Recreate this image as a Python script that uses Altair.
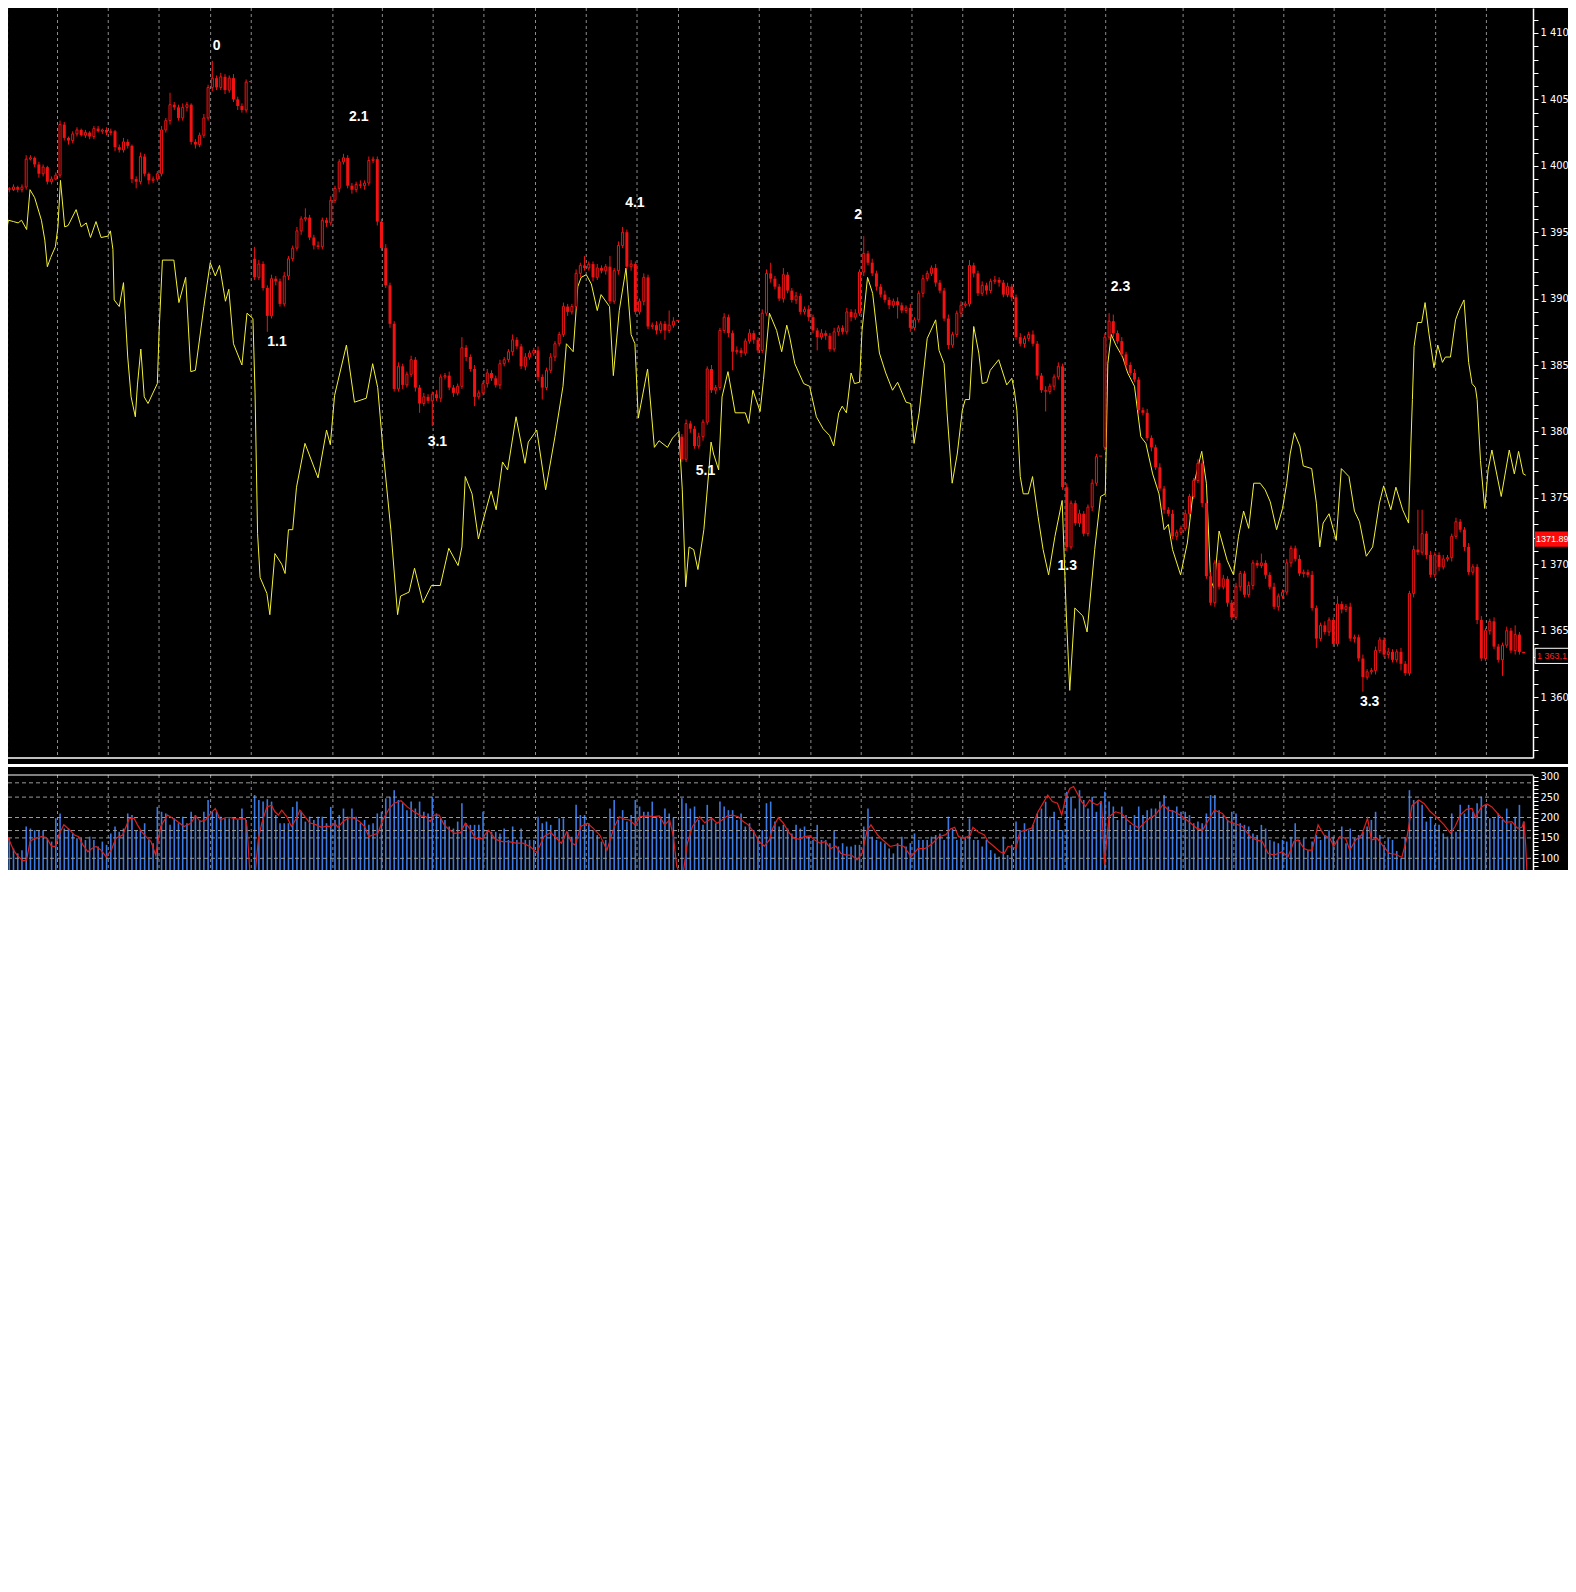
import altair as alt
import pandas as pd

# ---------------- data ----------------
# candle closes, one per bar (bar index 0..359)
close = [
    1398.3, 1398.2, 1398.4, 1398.2, 1398.4, 1400.5, 1400.6, 1400.1, 1399.4, 1399.9,
    1398.8, 1399.0, 1399.3, 1403.1, 1402.1, 1401.9, 1402.4, 1402.7, 1402.3, 1402.5,
    1402.2, 1402.8, 1402.6, 1402.7, 1402.5, 1402.6, 1401.4, 1401.2, 1401.8, 1401.5,
    1399.0, 1398.8, 1400.7, 1399.4, 1398.9, 1399.0, 1399.4, 1402.7, 1403.4, 1404.6,
    1404.4, 1403.6, 1404.4, 1404.6, 1401.8, 1401.6, 1402.3, 1403.6, 1405.9, 1406.6,
    1405.9, 1406.7, 1405.7, 1406.6, 1405.0, 1404.5, 1404.2, 1406.3, 1406.3, 1391.6,
    1392.6, 1390.8, 1388.7, 1391.5, 1391.3, 1389.6, 1391.7, 1393.0, 1393.8, 1395.1,
    1396.0, 1396.1, 1394.6, 1394.0, 1393.9, 1395.9, 1395.7, 1397.4, 1398.3, 1400.3,
    1400.6, 1398.5, 1398.2, 1398.6, 1398.5, 1398.7, 1400.4, 1400.5, 1395.8, 1393.8,
    1391.0, 1388.1, 1383.2, 1384.9, 1383.5, 1384.3, 1385.4, 1383.3, 1382.1, 1382.6,
    1382.3, 1382.8, 1382.5, 1384.1, 1384.2, 1383.3, 1382.9, 1383.4, 1386.3, 1385.6,
    1384.7, 1382.6, 1382.9, 1383.6, 1384.4, 1384.0, 1383.5, 1385.1, 1385.4, 1386.0,
    1386.9, 1386.4, 1384.9, 1385.6, 1385.9, 1386.1, 1384.1, 1383.3, 1384.6, 1385.6,
    1386.6, 1387.3, 1389.4, 1389.0, 1389.4, 1391.9, 1392.5, 1392.3, 1392.6, 1391.6,
    1392.3, 1392.1, 1392.4, 1389.8, 1392.1, 1394.0, 1395.0, 1392.4, 1392.6, 1389.0,
    1389.8, 1391.6, 1387.9, 1388.0, 1387.6, 1388.1, 1387.6, 1388.0, 1388.3, 1388.3,
    1377.9, 1380.6, 1380.2, 1378.9, 1379.6, 1380.7, 1384.7, 1383.1, 1383.3, 1387.6,
    1388.6, 1387.4, 1386.0, 1386.1, 1385.9, 1386.8, 1387.4, 1386.9, 1386.1, 1388.9,
    1391.9, 1391.5, 1390.9, 1390.0, 1391.8, 1390.6, 1389.9, 1390.2, 1389.0, 1389.2,
    1388.6, 1387.6, 1387.1, 1387.4, 1387.2, 1386.2, 1387.5, 1387.8, 1387.5, 1389.0,
    1388.6, 1388.9, 1392.0, 1393.4, 1392.7, 1391.9, 1390.9, 1390.3, 1389.9, 1389.5,
    1389.8, 1389.5, 1389.1, 1389.3, 1387.8, 1388.4, 1390.4, 1391.5, 1391.9, 1392.3,
    1391.2, 1390.6, 1388.5, 1386.5, 1387.3, 1388.9, 1389.5, 1389.6, 1392.5, 1391.9,
    1390.4, 1391.0, 1390.6, 1391.3, 1391.4, 1391.2, 1390.3, 1390.9, 1390.1, 1387.1,
    1386.6, 1387.0, 1387.3, 1386.6, 1384.2, 1383.1, 1383.0, 1383.4, 1384.1, 1384.9,
    1375.8, 1371.3, 1374.6, 1373.1, 1373.8, 1372.3, 1374.3, 1376.1, 1378.1, 1378.1,
    1387.1, 1388.3, 1387.4, 1386.8, 1385.8, 1385.0, 1384.4, 1383.9, 1381.6, 1381.4,
    1379.5, 1378.8, 1377.3, 1375.7, 1374.1, 1373.8, 1372.1, 1372.4, 1372.7, 1373.8,
    1375.1, 1376.3, 1377.6, 1374.6, 1369.1, 1367.1, 1370.1, 1368.3, 1368.9, 1367.1,
    1366.0, 1368.3, 1369.3, 1367.7, 1368.4, 1370.1, 1369.9, 1370.1, 1369.2, 1368.3,
    1366.8, 1367.6, 1367.9, 1370.1, 1371.2, 1370.4, 1369.3, 1369.4, 1369.2, 1366.7,
    1364.4, 1365.4, 1364.9, 1365.8, 1364.0, 1367.0, 1366.6, 1366.8, 1364.4, 1364.5,
    1362.9, 1361.5, 1361.9, 1362.0, 1363.5, 1364.3, 1363.2, 1363.4, 1362.8, 1363.4,
    1362.5, 1361.8, 1367.8, 1371.1, 1370.9, 1372.3, 1370.7, 1369.2, 1370.7, 1369.8,
    1370.4, 1370.5, 1372.1, 1373.2, 1372.6, 1371.3, 1369.4, 1369.8, 1365.8, 1362.9,
    1365.0, 1365.7, 1363.8, 1362.8, 1363.9, 1365.0, 1363.5, 1364.7, 1363.4, 1363.3,
]
# bars that open a new session (their open is not the previous close)
gap_bars = [0, 59, 160, 260]
gap_opens = [1397.6, 1393.0, 1379.6, 1378.8]

# wick lengths above / below the body, in tenths of a point
wick_up = [
    2, 1, 2, 1, 2, 3, 2, 1, 2, 2, 1, 2, 2, 3, 2, 1, 2, 2, 1, 2,
    1, 2, 2, 1, 2, 2, 1, 2, 3, 2, 1, 2, 3, 2, 1, 2, 2, 3, 2, 9,
    2, 2, 3, 2, 1, 2, 2, 3, 2, 13, 2, 3, 2, 2, 3, 2, 2, 2, 0, 9,
    3, 2, 2, 3, 2, 2, 3, 2, 2, 3, 2, 7, 2, 2, 3, 2, 2, 3, 2, 2,
    3, 2, 2, 2, 3, 2, 3, 2, 2, 2, 3, 2, 2, 3, 2, 2, 3, 2, 2, 3,
    2, 2, 3, 2, 2, 3, 2, 2, 8, 2, 2, 3, 2, 2, 3, 2, 2, 3, 2, 2,
    4, 2, 2, 3, 2, 2, 3, 2, 2, 3, 2, 2, 3, 2, 2, 3, 2, 7, 2, 2,
    3, 2, 2, 8, 2, 3, 4, 2, 3, 2, 2, 3, 2, 2, 3, 2, 2, 11, 3, 0,
    2, 3, 2, 2, 3, 2, 2, 3, 2, 2, 3, 2, 2, 3, 2, 2, 3, 2, 2, 3,
    3, 8, 2, 2, 5, 2, 2, 3, 2, 2, 3, 2, 2, 3, 2, 2, 3, 2, 2, 3,
    2, 3, 2, 13, 2, 3, 2, 2, 3, 2, 2, 3, 2, 2, 3, 2, 2, 3, 2, 2,
    3, 2, 2, 3, 2, 2, 3, 2, 4, 2, 2, 3, 2, 2, 3, 2, 2, 3, 2, 2,
    3, 2, 2, 3, 2, 2, 3, 2, 2, 3, 2, 3, 2, 2, 3, 2, 2, 3, 2, 0,
    3, 6, 5, 2, 3, 2, 2, 3, 2, 2, 3, 2, 2, 3, 2, 2, 3, 2, 2, 3,
    2, 2, 3, 2, 2, 3, 2, 2, 3, 2, 2, 3, 2, 2, 3, 2, 2, 7, 2, 2,
    3, 2, 2, 3, 2, 2, 3, 2, 2, 3, 2, 2, 3, 2, 2, 6, 2, 2, 3, 2,
    2, 3, 2, 2, 3, 2, 2, 3, 2, 2, 3, 2, 2, 3, 30, 18, 2, 3, 2, 2,
    3, 2, 2, 3, 2, 2, 3, 2, 2, 3, 2, 2, 3, 2, 2, 3, 2, 7, 2, 0,
]
wick_dn = [
    2, 2, 1, 2, 2, 2, 1, 2, 3, 2, 2, 2, 1, 2, 2, 3, 2, 2, 1, 2,
    2, 2, 1, 2, 2, 2, 3, 2, 2, 2, 3, 5, 2, 2, 3, 2, 2, 2, 2, 3,
    2, 2, 2, 3, 2, 3, 2, 2, 2, 3, 2, 2, 3, 2, 2, 3, 2, 2, 0, 2,
    2, 2, 12, 2, 3, 2, 2, 3, 2, 2, 3, 2, 2, 3, 2, 2, 3, 2, 2, 3,
    2, 2, 3, 2, 2, 3, 2, 2, 3, 2, 2, 3, 2, 2, 3, 2, 2, 3, 7, 2,
    2, 19, 2, 3, 2, 2, 3, 2, 2, 3, 2, 7, 2, 2, 3, 2, 2, 3, 2, 2,
    3, 2, 2, 3, 2, 2, 3, 9, 2, 2, 3, 2, 2, 3, 2, 2, 3, 2, 2, 3,
    2, 2, 3, 2, 2, 3, 2, 2, 3, 2, 2, 3, 2, 2, 3, 2, 7, 2, 2, 0,
    2, 2, 3, 2, 2, 3, 2, 2, 3, 2, 2, 3, 14, 2, 3, 2, 2, 3, 2, 2,
    2, 3, 2, 2, 3, 2, 2, 3, 2, 2, 3, 2, 10, 2, 3, 2, 2, 3, 2, 2,
    3, 2, 2, 3, 2, 2, 3, 2, 2, 3, 2, 10, 2, 2, 3, 2, 2, 3, 2, 2,
    3, 2, 2, 3, 2, 2, 3, 2, 2, 3, 2, 2, 3, 2, 2, 3, 2, 2, 3, 2,
    2, 3, 2, 2, 3, 2, 15, 2, 3, 2, 2, 3, 2, 2, 3, 2, 2, 3, 2, 0,
    2, 2, 3, 2, 2, 3, 2, 2, 3, 2, 2, 3, 2, 2, 3, 2, 2, 3, 2, 2,
    3, 2, 2, 3, 2, 2, 3, 2, 2, 3, 2, 2, 3, 2, 2, 3, 2, 2, 3, 2,
    2, 3, 2, 2, 3, 2, 2, 3, 2, 2, 7, 2, 2, 3, 2, 2, 3, 2, 2, 3,
    2, 11, 2, 2, 3, 2, 2, 3, 2, 2, 5, 2, 2, 3, 2, 2, 3, 2, 2, 3,
    2, 2, 3, 2, 2, 3, 2, 2, 3, 2, 2, 3, 2, 2, 12, 2, 2, 3, 2, 0,
]

# volume bars of the lower panel, one per bar
volume = [
    186, 149, 124, 112, 120, 178, 173, 169, 169, 169, 149, 141, 198, 210, 173, 173, 161, 149, 149, 145,
    153, 145, 129, 141, 133, 161, 178, 165, 173, 210, 206, 169, 169, 186, 145, 137, 226, 214, 210, 182,
    198, 186, 202, 186, 214, 206, 194, 214, 243, 214, 214, 202, 198, 198, 198, 194, 222, 194, 60, 255,
    243, 239, 245, 239, 206, 186, 186, 186, 226, 239, 214, 190, 202, 194, 202, 202, 186, 226, 194, 206,
    222, 202, 222, 202, 186, 194, 182, 186, 210, 214, 247, 251, 267, 243, 235, 218, 239, 222, 239, 214,
    210, 251, 210, 198, 194, 178, 173, 190, 235, 186, 182, 182, 182, 214, 169, 165, 165, 161, 173, 145,
    178, 145, 173, 145, 145, 145, 202, 186, 190, 182, 169, 198, 198, 165, 153, 231, 206, 206, 186, 169,
    157, 141, 145, 222, 243, 194, 218, 190, 206, 243, 227, 214, 214, 239, 202, 202, 222, 210, 200, 60,
    247, 235, 222, 227, 194, 182, 231, 198, 186, 239, 227, 218, 218, 194, 210, 178, 186, 169, 153, 169,
    235, 239, 190, 178, 182, 173, 161, 182, 173, 178, 153, 145, 182, 145, 145, 137, 169, 129, 137, 129,
    129, 133, 133, 178, 222, 153, 145, 141, 137, 124, 112, 137, 153, 129, 137, 161, 145, 145, 145, 153,
    157, 161, 145, 202, 173, 145, 149, 153, 198, 145, 145, 129, 145, 120, 112, 104, 153, 108, 133, 190,
    169, 186, 169, 182, 210, 222, 239, 202, 214, 194, 169, 263, 251, 222, 267, 243, 222, 251, 214, 240,
    263, 239, 227, 194, 227, 206, 182, 206, 227, 206, 218, 222, 222, 239, 255, 227, 218, 227, 214, 214,
    206, 186, 190, 186, 210, 255, 255, 218, 206, 194, 214, 210, 186, 182, 178, 161, 157, 182, 173, 145,
    141, 137, 145, 141, 153, 186, 145, 149, 120, 141, 157, 145, 157, 169, 153, 145, 178, 137, 173, 149,
    157, 165, 178, 194, 214, 157, 133, 149, 145, 118, 100, 152, 267, 243, 243, 231, 190, 202, 182, 182,
    161, 153, 210, 165, 231, 210, 231, 214, 235, 251, 231, 198, 198, 210, 194, 222, 186, 202, 231, 190,
]

# red moving-average line of the lower panel: (bar, value)
ma_points = [
    (0, 129), (0.8, 149), (2, 120), (3.1, 104), (4.3, 94), (5.1, 96), (5.9, 141), (7, 149), (8.6, 153), (9.8, 151),
    (11, 129), (11.9, 129), (12.7, 157), (13.9, 182), (15.3, 169), (16.4, 157), (17.4, 153), (18.4, 133), (19.6, 116),
    (20.5, 124), (21.5, 129), (22.7, 120), (23.9, 104), (25.1, 120), (26.2, 149), (27.8, 157), (29.4, 198), (30.5, 198),
    (31.3, 182), (32.3, 165), (33.3, 153), (34.5, 141), (35.6, 108), (36.8, 178), (38.4, 206), (40.3, 194), (42.3, 178),
    (43.9, 186), (45, 204), (46.2, 190), (47.4, 194), (48.6, 210), (49.7, 222), (50.9, 194), (52.1, 200), (53.2, 200),
    (54.8, 196), (56.8, 197), (57.2, 178), (57.9, 60), (59.1, 60), (59.9, 149), (60.7, 186), (61.9, 226), (63, 230),
    (63.8, 214), (64.6, 206), (65.4, 218), (66.6, 202), (67.7, 178), (68.9, 198), (69.7, 218), (70.9, 202), (72, 187),
    (73.6, 182), (74.8, 176), (76, 179), (77.1, 178), (77.9, 186), (78.7, 176), (79.9, 190), (81.4, 200), (82.6, 198),
    (83.8, 190), (85, 178), (86, 153), (86.9, 157), (88.1, 161), (89.3, 194), (90.8, 222), (92, 235), (93.6, 241),
    (95.1, 226), (96.7, 214), (98.3, 204), (99.5, 202), (100.5, 190), (101.4, 206), (102.6, 206), (103.8, 182),
    (104.9, 171), (106.3, 161), (107.7, 163), (108.8, 186), (110, 171), (111.2, 149), (112.8, 149), (114.3, 169),
    (115.9, 147), (117.5, 141), (119.1, 141), (120.8, 137), (122.4, 137), (124.1, 129), (125.7, 114), (127.4, 153),
    (129, 163), (130.7, 145), (131.5, 137), (132.8, 165), (134, 137), (134.8, 133), (136.1, 178), (137.7, 186),
    (139, 174), (140.6, 157), (142.3, 120), (143.9, 174), (145.2, 202), (146.4, 196), (147.6, 194), (148.9, 182),
    (150.1, 202), (151.8, 204), (153.4, 202), (154.7, 204), (155.9, 182), (157.1, 194), (158, 153), (158.8, 80),
    (159.6, 60), (160.4, 70), (161.3, 137), (162.5, 178), (164.2, 202), (165.4, 187), (167.1, 198), (168.3, 186),
    (169.5, 194), (170.8, 204), (172, 206), (173.3, 202), (174.5, 190), (175.7, 182), (177, 165), (178.2, 141),
    (179.5, 130), (180.7, 145), (181.5, 174), (182.8, 200), (184, 186), (185.2, 165), (186.5, 149), (187.7, 147),
    (189, 153), (190.2, 155), (191.4, 145), (192.7, 137), (193.9, 141), (195.2, 124), (196.4, 130), (197.6, 112),
    (198.9, 108), (200.1, 108), (201.4, 96), (202.6, 112), (203.8, 169), (204.7, 182), (206.3, 157), (207.5, 145),
    (209.2, 129), (210.9, 133), (212.5, 129), (214.2, 104), (215.8, 124), (217.5, 124), (219.1, 135), (220.8, 153),
    (222.4, 158), (223.5, 172), (224.5, 176), (225.4, 153), (226.8, 149), (228.2, 157), (228.8, 176), (230, 165),
    (231.5, 157), (232.4, 141), (233.8, 129), (235.2, 116), (236.2, 112), (237.1, 129), (238, 127), (239, 125),
    (239.9, 165), (241.3, 169), (242.7, 174), (244.2, 214), (245.6, 239), (246.5, 255), (247.6, 239), (248.8, 235),
    (249.8, 206), (250.7, 247), (251.7, 271), (252.6, 276), (253.5, 259), (254.5, 239), (255.4, 227), (256.4, 243),
    (257.3, 235), (258.2, 231), (259.2, 239), (259.9, 85), (260.2, 120), (261, 202), (262.5, 214), (263.9, 210),
    (265.3, 194), (266.7, 182), (268.1, 174), (270, 194), (271.9, 206), (273.7, 231), (275.1, 218), (276.5, 214),
    (278.4, 202), (280.3, 186), (281.7, 174), (283.1, 169), (284.5, 194), (285.9, 218), (287.8, 210), (289.2, 190),
    (290.6, 186), (292.5, 178), (294.4, 153), (295.8, 145), (297.2, 141), (298.6, 112), (300, 108), (301.9, 116),
    (303.3, 104), (304.7, 141), (305.7, 145), (307.1, 124), (308, 120), (309, 120), (310.4, 182), (311.8, 157),
    (313.2, 149), (314.1, 129), (315.5, 153), (316.9, 149), (317.9, 120), (319.3, 145), (320.7, 157), (322.1, 198),
    (323, 145), (324.4, 149), (325.8, 129), (327.3, 112), (328.7, 110), (330.2, 102), (331.4, 150), (332.6, 229),
    (334.2, 243), (335.5, 234), (336.8, 216), (338.3, 202), (340.2, 182), (341.7, 162), (342.8, 178), (344, 206),
    (345.5, 220), (346.8, 222), (347.6, 200), (349, 226), (350.3, 233), (351.5, 226), (353.2, 206), (354.7, 188),
    (356.2, 190), (357.5, 174), (358.6, 176), (359.1, 190), (359.5, 129), (359.8, 60),
]

# yellow overlay line of the price panel: (bar, price)
yellow_points = [
    (0, 1394.6), (0.8, 1395.9), (2, 1395.8), (3.1, 1395.7), (3.9, 1395.9), (5.1, 1395.2), (5.9, 1398.2), (7, 1397.6),
    (8.6, 1395.9), (9.4, 1394.4), (10, 1392.4), (10.8, 1393.1), (11.9, 1393.9), (12.5, 1395.4), (13.1, 1398.9),
    (14.1, 1395.4), (14.9, 1395.5), (16.8, 1396.7), (18, 1395.4), (19.2, 1395.7), (20.2, 1394.6), (21.5, 1395.8),
    (22.7, 1394.6), (24.3, 1394.7), (24.9, 1395.1), (25.5, 1393.7), (25.8, 1389.9), (27, 1389.4), (28, 1391.2),
    (28.5, 1388.4), (29, 1385.6), (29.8, 1382.6), (30.8, 1381.1), (31.3, 1383.5), (32.1, 1386.2), (32.9, 1382.6),
    (33.8, 1382.1), (36, 1383.6), (36.4, 1387.4), (37.2, 1392.9), (39.9, 1392.9), (41.1, 1389.7), (42.7, 1391.6),
    (43.9, 1384.5), (45, 1384.6), (47, 1389.4), (48.5, 1392.7), (49.7, 1391.7), (50.7, 1392.5), (52.1, 1389.8),
    (52.9, 1390.7), (54, 1386.6), (56, 1385.0), (57.2, 1388.9), (58.6, 1388.5), (59.1, 1382.9), (59.7, 1372.3),
    (60.3, 1369.0), (61.9, 1367.8), (62.6, 1366.2), (63.8, 1370.8), (65.4, 1370.0), (66.2, 1369.3), (67, 1372.6),
    (68, 1372.6), (68.9, 1375.8), (70.9, 1379.1), (74, 1376.5), (76, 1380.1), (76.9, 1379.0), (77.9, 1382.7),
    (80.7, 1386.5), (82.6, 1382.2), (85.4, 1382.5), (86.9, 1385.1), (88.1, 1383.3), (89.3, 1378.8), (91.2, 1372.6),
    (92.8, 1366.2), (93.5, 1367.6), (95.5, 1367.9), (96.8, 1369.7), (98.8, 1367.1), (100.8, 1368.4), (102.9, 1368.4),
    (104.9, 1371.2), (107.1, 1369.9), (108, 1371.3), (108.8, 1376.6), (110.4, 1375.3), (111.9, 1371.9), (113.1, 1373.4),
    (114.9, 1375.5), (116.1, 1374.1), (117.6, 1377.7), (118.8, 1377.1), (120.8, 1381.1), (122.9, 1377.6), (123.7, 1379.2),
    (125.7, 1380.1), (127.8, 1375.6), (130, 1379.6), (131.9, 1383.4), (132.7, 1386.6), (134.3, 1386.0), (135.4, 1390.9),
    (136.2, 1391.6), (137.4, 1391.8), (138.6, 1391.1), (140, 1389.1), (140.9, 1390.3), (142.9, 1389.4), (143.8, 1384.2),
    (145.2, 1389.1), (146.8, 1392.3), (148, 1387.3), (148.9, 1386.6), (149.7, 1381.0), (151.9, 1384.7), (153.5, 1378.8),
    (154.6, 1379.3), (156.6, 1378.8), (157.8, 1379.5), (159.3, 1380.0), (160.1, 1375.6), (160.9, 1368.3), (161.7, 1371.3),
    (162.8, 1371.1), (163.8, 1369.6), (165.2, 1372.6), (166.4, 1377.1), (166.9, 1379.2), (167.5, 1378.3), (168.7, 1377.1),
    (169.5, 1382.6), (170.9, 1384.5), (172.6, 1381.4), (175, 1381.4), (175.8, 1380.6), (176.8, 1383.1), (178.5, 1381.5),
    (179.3, 1383.9), (180.7, 1388.9), (182.4, 1387.6), (183.6, 1386.0), (184.8, 1388.0), (185.5, 1387.1), (186.7, 1385.1),
    (188.8, 1383.6), (190.2, 1383.4), (191.8, 1381.1), (193.4, 1380.2), (194.9, 1379.7), (195.9, 1378.9), (197.1, 1381.4),
    (197.9, 1381.9), (198.9, 1381.4), (200, 1384.4), (200.8, 1383.6), (202, 1383.7), (202.6, 1387.6), (203.9, 1391.6),
    (205.1, 1390.4), (206.7, 1385.9), (208.2, 1384.4), (209.8, 1383.1), (211, 1383.7), (213, 1382.2), (214.1, 1382.1),
    (214.9, 1379.1), (216.1, 1381.4), (218, 1387.0), (220, 1388.4), (220.8, 1386.1), (222, 1385.1), (222.7, 1381.4),
    (223.9, 1376.1), (225.1, 1378.3), (226.3, 1381.6), (227, 1382.4), (228, 1382.4), (229, 1387.9), (230.2, 1385.9),
    (231, 1383.6), (232.1, 1383.7), (232.9, 1384.6), (234.9, 1385.4), (236.8, 1383.5), (238, 1384.0), (238.6, 1383.1),
    (239.2, 1381.6), (240, 1376.6), (240.7, 1375.3), (241.9, 1375.3), (242.9, 1376.6), (244.2, 1373.6), (245.4, 1371.1),
    (246.7, 1369.2), (248.2, 1372.1), (249.9, 1374.8), (250.5, 1369.6), (250.9, 1366.1), (251.7, 1360.5), (252.9, 1366.7),
    (254.8, 1366.1), (255.8, 1364.9), (257.6, 1371.1), (259, 1375.1), (260.1, 1375.3), (260.7, 1385.1), (261.5, 1387.3),
    (262.6, 1386.5), (264.2, 1385.6), (265.4, 1384.4), (267, 1383.4), (268.5, 1379.6), (269.7, 1379.1), (271.3, 1376.8),
    (272.8, 1375.3), (274, 1372.6), (275, 1373.0), (276, 1371.1), (277.9, 1369.2), (279.5, 1371.6), (281.1, 1376.1),
    (282.9, 1378.5), (284, 1376.1), (285, 1368.8), (285.8, 1368.2), (287, 1372.5), (288.9, 1370.3), (290.4, 1369.2),
    (291.6, 1372.1), (292.8, 1374.0), (294, 1372.7), (295.2, 1376.1), (296.7, 1376.1), (297.9, 1375.6), (299.1, 1374.7),
    (300.6, 1372.6), (302, 1374.2), (303, 1376.1), (303.8, 1378.3), (304.8, 1379.9), (306.1, 1378.9), (306.9, 1377.4),
    (308.9, 1377.2), (310, 1374.6), (310.8, 1371.3), (311.6, 1373.1), (313, 1373.8), (314.7, 1371.8), (315.9, 1377.2),
    (317.7, 1376.6), (319, 1374.0), (320.2, 1373.2), (321.8, 1370.6), (323.3, 1371.3), (324.9, 1374.6), (325.9, 1375.9),
    (327.6, 1374.1), (328.8, 1375.8), (330.4, 1374.1), (331.8, 1373.1), (332.3, 1378.6), (332.7, 1382.4), (333.1, 1386.4),
    (333.9, 1388.2), (334.9, 1388.2), (335.7, 1389.7), (336.6, 1387.4), (337.8, 1384.8), (338.7, 1386.5), (339.8, 1385.2),
    (340.5, 1385.6), (341.7, 1385.6), (342.9, 1388.4), (343.7, 1389.1), (344.9, 1389.9), (346, 1385.2), (346.8, 1383.6),
    (347.6, 1383.3), (348, 1382.4), (348.8, 1377.8), (349.8, 1374.2), (350.6, 1377.1), (351.5, 1378.6), (353.7, 1375.1),
    (355.6, 1378.6), (356.8, 1376.8), (357.8, 1378.5), (358.9, 1376.8), (359.5, 1376.7),
]

# dashed vertical separators (bar positions)
grid_bars = [0.6, 12.4, 24.4, 36.4, 48.6, 58.2, 77.5, 89.2, 101.2, 113.2, 125.4, 137.4, 149.4, 159.2,
             178.3, 190.5, 202.4, 214.4, 226.4, 238.4, 250.6, 260.2, 278.5, 290.5, 302.3, 314.2, 326.2,
             338.2, 350.2]

# wave labels
wave_text = ["0", "2.1", "1.1", "3.1", "4.1", "5.1", "2", "1.3", "2.3", "3.3"]
wave_bar = [50.0, 83.6, 64.3, 102.2, 148.9, 165.6, 201.7, 251.1, 263.7, 322.6]
wave_price = [1409.0, 1403.7, 1386.7, 1379.2, 1397.2, 1377.0, 1396.3, 1369.9, 1390.9, 1359.65]

# axis ticks and lower-panel dashed levels
price_ticks = list(range(1356, 1412))
vol_ticks = list(range(80, 301, 10))
vol_levels = [285, 250, 200, 168, 150, 100]

# price tags at the right edge
tag_value = [1371.89, 1363.1]
tag_text = ["1371.89", "1 363,1"]

# ---------------- build tables ----------------
n = min(len(close), len(wick_up), len(wick_dn), len(volume))
rows = []
for i in range(n):
    c = close[i]
    o = gap_opens[gap_bars.index(i)] if i in gap_bars else close[i - 1]
    blo, bhi = min(o, c), max(o, c)
    if bhi - blo < 0.08:
        bhi = blo + 0.08
    rows.append(dict(i=i, blo=blo, bhi=bhi,
                     hi=max(o, c) + wick_up[i] / 10.0,
                     lo=min(o, c) - wick_dn[i] / 10.0,
                     up=bool(c > o + 0.05), vol=volume[i]))
candles = pd.DataFrame(rows)
yellow_df = pd.DataFrame(yellow_points, columns=["i", "p"])
ma_df = pd.DataFrame(ma_points, columns=["i", "v"])
grid_df = pd.DataFrame({"g": grid_bars})
wave_df = pd.DataFrame({"t": wave_text, "i": wave_bar, "p": wave_price})
lvl_df = pd.DataFrame({"v": vol_levels})
one = pd.DataFrame({"k": [0]})
tag1 = pd.DataFrame({"t": [tag_text[0]], "p": [tag_value[0]],
                     "lo": [tag_value[0] - 0.57], "hi": [tag_value[0] + 0.57]})
tag2 = pd.DataFrame({"t": [tag_text[1]], "p": [tag_value[1]],
                     "lo": [tag_value[1] - 0.57], "hi": [tag_value[1] + 0.57]})

# ---------------- scales / styles ----------------
W, H = 1525, 862
PAD_R = 35
RED = "#f21212"
GRID = "#8c8c8c"
FONT = "Liberation Sans"
AXFONT = "Liberation Sans Narrow, DejaVu Sans Condensed, Liberation Sans"

XS = alt.Scale(domain=[1.879, 360.03], nice=False, zero=False)


def YM():
    return alt.Scale(domain=[1355.41, 1411.88], range=[750, 0], nice=False, zero=False)


def YL():
    return alt.Scale(domain=[71.3, 304.2], range=[862, 767], nice=False, zero=False)


def X(f):
    return alt.X(f"{f}:Q", scale=XS, axis=None)


main_axis = alt.Axis(
    orient="right", values=price_ticks, title=None, grid=False,
    labelExpr="datum.value % 5 === 0 ? replace(format(datum.value, ','), ',', ' ') : ''",
    tickSize=5, tickColor="white", domainColor="white", domainWidth=1.5,
    labelColor="white", labelFont=AXFONT, labelFontSize=11, labelPadding=2,
    labelOverlap=False, labelBound=False, labelFlush=False,
)
low_axis = alt.Axis(
    orient="right", values=vol_ticks, title=None, grid=False,
    labelExpr="datum.value % 50 === 0 ? '' + datum.value : ''",
    tickSize=5, tickColor="white", domainColor="white", domainWidth=1.5,
    labelColor="white", labelFont=AXFONT, labelFontSize=11, labelPadding=2,
    labelOverlap=False, labelBound=False, labelFlush=False,
)

# ---------------- price panel ----------------
grid_main = alt.Chart(grid_df).mark_rule(color=GRID, strokeDash=[3, 3], strokeWidth=1).encode(
    x=X("g"), y=alt.value(0), y2=alt.value(750))
yellow = alt.Chart(yellow_df).mark_line(color="#f3f235", strokeWidth=1).encode(
    x=X("i"), y=alt.Y("p:Q", scale=YM(), axis=main_axis))
wicks = alt.Chart(candles).mark_rule(color=RED, strokeWidth=1).encode(
    x=X("i"), y=alt.Y("lo:Q", scale=YM(), axis=None), y2="hi:Q")
down = alt.Chart(candles).transform_filter("!datum.up").mark_bar(size=3, color=RED).encode(
    x=X("i"), y=alt.Y("blo:Q", scale=YM(), axis=None), y2="bhi:Q")
up = alt.Chart(candles).transform_filter("datum.up").mark_bar(
    size=2, fill="black", stroke=RED, strokeWidth=1).encode(
    x=X("i"), y=alt.Y("blo:Q", scale=YM(), axis=None), y2="bhi:Q")
waves = alt.Chart(wave_df).mark_text(color="white", font=FONT, fontSize=14, fontWeight="bold").encode(
    x=X("i"), y=alt.Y("p:Q", scale=YM(), axis=None), text="t:N")
border_main = alt.Chart(one).mark_rule(color="white", strokeWidth=1.5).encode(
    x=alt.value(0), x2=alt.value(W), y=alt.value(750))
band = alt.Chart(one).mark_rule(color="white", strokeWidth=3).encode(
    x=alt.value(0), x2=alt.value(W + PAD_R), y=alt.value(757.5))
border_low = alt.Chart(one).mark_rule(color="white", strokeWidth=1).encode(
    x=alt.value(0), x2=alt.value(W), y=alt.value(767))
box1 = alt.Chart(tag1).mark_rect(color="#ff0a0a").encode(
    x=alt.value(W + 2), x2=alt.value(W + PAD_R), y=alt.Y("lo:Q", scale=YM(), axis=None), y2="hi:Q")
txt1 = alt.Chart(tag1).mark_text(align="left", baseline="middle", color="white", font=FONT, fontSize=9).encode(
    x=alt.value(W + 3), y=alt.Y("p:Q", scale=YM(), axis=None), text="t:N")
box2 = alt.Chart(tag2).mark_rect(fill="black", stroke="white", strokeWidth=1).encode(
    x=alt.value(W + 2), x2=alt.value(W + PAD_R + 4), y=alt.Y("lo:Q", scale=YM(), axis=None), y2="hi:Q")
txt2 = alt.Chart(tag2).mark_text(align="left", baseline="middle", color="#ff2020", font=FONT, fontSize=9).encode(
    x=alt.value(W + 4), y=alt.Y("p:Q", scale=YM(), axis=None), text="t:N")

# ---------------- volume panel ----------------
grid_low = alt.Chart(grid_df).mark_rule(color=GRID, strokeDash=[3, 3], strokeWidth=1).encode(
    x=X("g"), y=alt.value(767), y2=alt.value(862))
vbars = alt.Chart(candles).mark_bar(size=1.6, color="#3b7ae0", clip=True).encode(
    x=X("i"), y=alt.Y("vol:Q", scale=YL(), axis=low_axis), y2=alt.value(862))
levels = alt.Chart(lvl_df).mark_rule(color="#9a9a9a", strokeDash=[4, 3], strokeWidth=1).encode(
    x=alt.value(0), x2=alt.value(W), y=alt.Y("v:Q", scale=YL(), axis=None))
ma = alt.Chart(ma_df).mark_line(color="#de1f1f", strokeWidth=1.2, clip=True).encode(
    x=X("i"), y=alt.Y("v:Q", scale=YL(), axis=None))

chart = alt.layer(
    grid_main, grid_low, vbars, levels, ma,
    yellow, wicks, down, up, waves,
    border_main, band, border_low, box1, txt1, box2, txt2,
).resolve_scale(y="independent").properties(
    width=W, height=H,
    autosize=alt.AutoSizeParams(type="none"),
    padding={"left": 0, "right": PAD_R, "top": 0, "bottom": 0},
    background="black",
).configure_view(strokeWidth=0)

chart.save("out.html", embed_options={"renderer": "svg", "actions": False})
